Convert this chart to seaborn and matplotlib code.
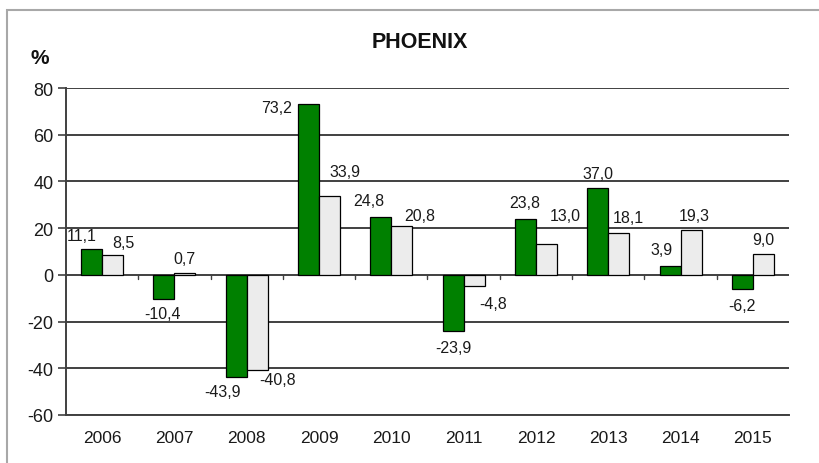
import matplotlib
matplotlib.use("Agg")
import matplotlib.pyplot as plt
import seaborn as sns
import pandas as pd
from matplotlib.patches import Rectangle

years = ["2006", "2007", "2008", "2009", "2010", "2011", "2012", "2013", "2014", "2015"]
phoenix = [11.1, -10.4, -43.9, 73.2, 24.8, -23.9, 23.8, 37.0, 3.9, -6.2]
other = [8.5, 0.7, -40.8, 33.9, 20.8, -4.8, 13.0, 18.1, 19.3, 9.0]
series_names = ["Phoenix", "Other"]
yticks = [-60, -40, -20, 0, 20, 40, 60, 80]

# label offsets in pixels (dx, dy) relative to bar centre / bar end
green_off = [(-10, 13), (-1, -14), (-13.5, -14), (-32.5, -4), (-12, 16),
             (0, -17), (-1, 17), (0, 15), (-9, 16), (0, -16)]
gray_off = [(11, 13), (0, 15), (20, -9), (15, 24), (17.5, 11),
            (19, -17), (19, 29), (10, 15), (3, 14), (0, 14)]

df = pd.DataFrame({
    "year": years * 2,
    "series": [series_names[0]] * len(years) + [series_names[1]] * len(years),
    "value": phoenix + other,
})

sns.set_theme(style="white")
plt.rcParams["font.family"] = ["Liberation Sans", "DejaVu Sans"]

fig = plt.figure(figsize=(8.2, 4.64), dpi=100)
ax = fig.add_axes([66 / 820, 48 / 464, (789 - 66) / 820, (416 - 89) / 464])

sns.barplot(data=df, x="year", y="value", hue="series", order=years,
            hue_order=series_names, palette=["#008000", "#ececec"], saturation=1,
            width=0.58, edgecolor="black", linewidth=0.9, ax=ax, legend=False)

ax.set_ylim(-60, 80)
ax.set_xlim(-0.5, len(years) - 0.5)
ax.set_yticks(yticks)
ax.set_yticklabels([str(t) for t in yticks], fontsize=13, color="#1a1a1a")
ax.set_xticks(range(len(years)))
ax.set_xticklabels(years, fontsize=12.5, color="#1a1a1a")
ax.tick_params(axis="x", length=0, pad=11)
ax.tick_params(axis="y", length=6, width=1.2, color="#404040", direction="out", left=True, pad=3)
ax.set_xlabel("")
ax.set_ylabel("")

for s in ["top", "right"]:
    ax.spines[s].set_visible(False)
for s in ["left", "bottom"]:
    ax.spines[s].set_color("#404040")
    ax.spines[s].set_linewidth(1.4)

ax.set_axisbelow(True)
ax.yaxis.grid(True, color="#404040", linewidth=1.4)
ax.xaxis.grid(False)

# category boundary ticks on the zero line
for b in range(1, len(years)):
    ax.plot([b - 0.5, b - 0.5], [0, -1.8], color="#404040", linewidth=1.0, zorder=1)

# value labels
bars = ax.patches
green_bars = bars[:len(years)]
gray_bars = bars[len(years):2 * len(years)]

def fmt(v):
    return f"{v:.1f}".replace(".", ",")

for bar_list, vals, offs in [(green_bars, phoenix, green_off), (gray_bars, other, gray_off)]:
    for bar, v, (dx, dy) in zip(bar_list, vals, offs):
        cx = bar.get_x() + bar.get_width() / 2
        ax.annotate(fmt(v), xy=(cx, v), xytext=(dx * 0.72, dy * 0.72),
                    textcoords="offset points", ha="center", va="center",
                    fontsize=11.5, color="#1a1a1a")

fig.text(420 / 820, 1 - 42 / 464, "PHOENIX", ha="center", va="center",
         fontsize=15.5, fontweight="bold", color="#111111")
fig.text(40 / 820, 1 - 58 / 464, "%", ha="center", va="center",
         fontsize=15, fontweight="bold", color="#111111")

# outer frame
fig.patches.append(Rectangle((7 / 820, -0.2), 1.2, 1 - 11 / 464 + 0.2,
                             transform=fig.transFigure, fill=False,
                             edgecolor="#a8a8a8", linewidth=1.5))

fig.savefig("out.png", dpi=100)
